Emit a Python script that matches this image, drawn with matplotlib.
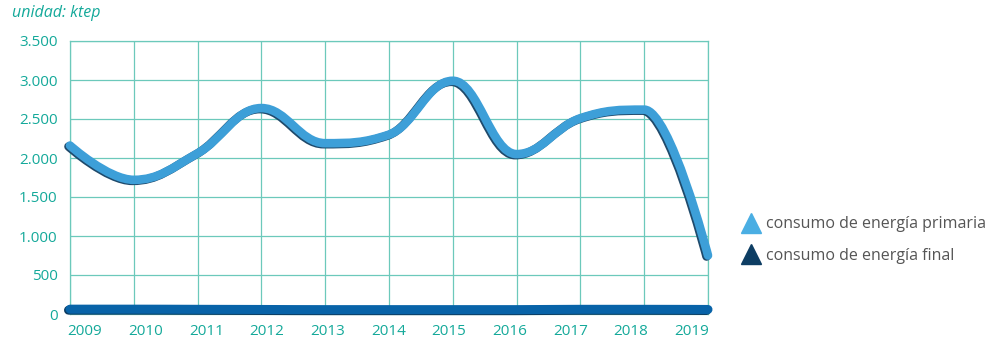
# Consumo de energía primaria y final, 2009-2019 (ktep)

import matplotlib
matplotlib.use("Agg")
import matplotlib.pyplot as plt
import matplotlib.transforms as mtransforms
from matplotlib.path import Path
from matplotlib.patches import PathPatch
from matplotlib.lines import Line2D

years = [2009, 2010, 2011, 2012, 2013, 2014, 2015, 2016, 2017, 2018, 2019]
primaria = [2160, 1720, 2060, 2640, 2190, 2300, 2990, 2050, 2510, 2620, 750]
final = [62, 62, 60, 58, 56, 56, 56, 56, 60, 60, 58]

y_ticks = [0, 500, 1000, 1500, 2000, 2500, 3000, 3500]
y_labels = ["0", "500", "1.000", "1.500", "2.000", "2.500", "3.000", "3.500"]

TEAL = "#14a99a"
GRID = "#6cc9bb"
LIGHT_BLUE = "#3d9fd8"
SHADOW = "#1f4a6b"
MID_BLUE = "#0863a8"
NAVY = "#0d3d63"


# Smooth path like a Highcharts "spline" series
def spline_path(xs, ys, smoothing=1.5):
    n = len(xs)
    left = [(xs[0], ys[0])] * n
    right = [(xs[0], ys[0])] * n
    d = smoothing + 1
    for i in range(n):
        x, y = xs[i], ys[i]
        if i == 0 or i == n - 1:
            left[i] = right[i] = (x, y)
            continue
        lx, ly = xs[i - 1], ys[i - 1]
        nx, ny = xs[i + 1], ys[i + 1]
        lcx = (smoothing * x + lx) / d
        lcy = (smoothing * y + ly) / d
        rcx = (smoothing * x + nx) / d
        rcy = (smoothing * y + ny) / d
        corr = ((rcy - lcy) * (rcx - x)) / (rcx - lcx) + y - rcy
        lcy += corr
        rcy += corr
        if lcy > ly and lcy > y:
            lcy = max(ly, y)
            rcy = 2 * y - lcy
        elif lcy < ly and lcy < y:
            lcy = min(ly, y)
            rcy = 2 * y - lcy
        if rcy > ny and rcy > y:
            rcy = max(ny, y)
            lcy = 2 * y - rcy
        elif rcy < ny and rcy < y:
            rcy = min(ny, y)
            lcy = 2 * y - rcy
        left[i] = (lcx, lcy)
        right[i] = (rcx, rcy)
    verts = [(xs[0], ys[0])]
    codes = [Path.MOVETO]
    for i in range(1, n):
        verts += [right[i - 1], left[i], (xs[i], ys[i])]
        codes += [Path.CURVE4] * 3
    return Path(verts, codes)


def draw_series(ax, fig, ys, color, shadow, lw):
    path = spline_path(years, ys)
    off = mtransforms.offset_copy(ax.transData, fig=fig, x=-1.5, y=-1, units="dots")
    ax.add_patch(PathPatch(path, facecolor="none", edgecolor=shadow, lw=lw,
                           capstyle="round", joinstyle="round", transform=off,
                           zorder=3, clip_on=False))
    ax.add_patch(PathPatch(path, facecolor="none", edgecolor=color, lw=lw,
                           capstyle="round", joinstyle="round", zorder=4,
                           clip_on=False))


plt.rcParams["font.family"] = ["Open Sans", "DejaVu Sans"]

fig = plt.figure(figsize=(10.06, 3.42), dpi=100)
ax = fig.add_axes([70 / 1006, 28 / 342, 638 / 1006, 273 / 342])

draw_series(ax, fig, primaria, LIGHT_BLUE, SHADOW, 6.2)
draw_series(ax, fig, final, MID_BLUE, NAVY, 6.5)

ax.set_xlim(years[0], years[-1])
ax.set_ylim(0, 3500)

# grid on the years, labels spread slightly inside the plot like the original
ax.set_xticks(years)
ax.set_xticklabels([])
label_pos = [years[0] + 0.235 + i * 0.951 for i in range(len(years))]
ax.set_xticks(label_pos, minor=True)
ax.set_xticklabels([str(y) for y in years], minor=True)

ax.set_yticks(y_ticks)
ax.set_yticklabels(y_labels)
ax.grid(True, which="major", color=GRID, lw=0.9)
ax.set_axisbelow(True)
for s in ax.spines.values():
    s.set_color(GRID)
    s.set_linewidth(0.9)
ax.tick_params(which="both", length=0, colors=TEAL, labelsize=11)
ax.tick_params(axis="x", which="minor", pad=7)
ax.tick_params(axis="y", pad=9)
for lab in ax.get_xticklabels(minor=True) + ax.get_yticklabels():
    lab.set_fontweight("medium")

fig.text(12 / 1006, 1 - 13 / 342, "unidad: ktep", color=TEAL, fontsize=11.5,
         style="italic", va="center", ha="left")

handles = [
    Line2D([], [], ls="none", marker="^", markersize=15, color="#4aaee3"),
    Line2D([], [], ls="none", marker="^", markersize=15, color=NAVY),
]
fig.legend(handles, ["consumo de energía primaria", "consumo de energía final"],
           loc="center left", bbox_to_anchor=(722 / 1006, 1 - 240 / 342),
           frameon=False, fontsize=11.5, labelcolor="#555555",
           handletextpad=0.05, labelspacing=0.95, handlelength=1.8)

fig.savefig("out.png", dpi=100)
